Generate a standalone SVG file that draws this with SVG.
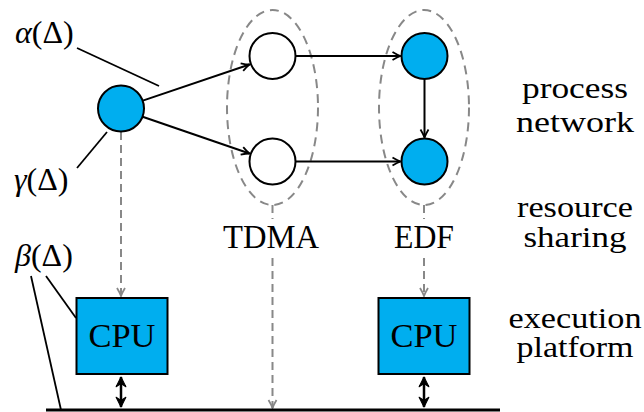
<svg xmlns="http://www.w3.org/2000/svg" width="644" height="412" viewBox="0 0 644 412" font-family="'Liberation Serif', 'DejaVu Serif', serif">
  <defs>
    <style>
      text { font-family: 'Liberation Serif', 'DejaVu Serif', serif; fill: #000; }
      .lbl { font-size: 33px; text-anchor: middle; }
      .side { font-size: 29px; text-anchor: middle; }
      .greek { font-size: 32px; }
      .proc { stroke: #000; stroke-width: 2; }
      .task { fill: #00aeef; }
      .idle { fill: #fff; }
      .cpu { fill: #00aeef; stroke: #000; stroke-width: 2; }
      .edge { stroke: #000; stroke-width: 2; fill: none; }
      .ann { stroke: #000; stroke-width: 1.8; fill: none; }
      .map { stroke: #888; stroke-width: 2; stroke-dasharray: 8 5; fill: none; }
      .group { stroke: #888; stroke-width: 2; stroke-dasharray: 9 6; fill: none; }
      .bus { stroke: #000; stroke-width: 3; }
      .link { stroke: #000; stroke-width: 2.5; fill: none; }
    </style>
    <marker id="arrow" viewBox="-10 -6 12 12" refX="0" refY="0" markerWidth="12" markerHeight="12" markerUnits="userSpaceOnUse" orient="auto">
      <path d="M -8 -4 Q -3 -1 0 0 Q -3 1 -8 4" fill="none" stroke="#000" stroke-width="1.8"/>
    </marker>
    <marker id="arrowGray" viewBox="-10 -6 12 12" refX="0" refY="0" markerWidth="12" markerHeight="12" markerUnits="userSpaceOnUse" orient="auto">
      <path d="M -8 -4 Q -3 -1 0 0 Q -3 1 -8 4" fill="none" stroke="#888" stroke-width="1.8"/>
    </marker>
    <marker id="stealth" viewBox="-10 -6 12 12" refX="0" refY="0" markerWidth="13" markerHeight="13" markerUnits="userSpaceOnUse" orient="auto-start-reverse">
      <path d="M -9 -4.5 L 0 0 L -9 4.5 L -6 0 Z" fill="#000" stroke="#000" stroke-width="1" stroke-linejoin="round"/>
    </marker>
  </defs>

  <!-- scheduling groups -->
  <g id="tdma-group">
    <ellipse class="group" cx="272.5" cy="107.5" rx="45.5" ry="97.5"/>
    <text class="lbl" x="271" y="248" textLength="96" lengthAdjust="spacingAndGlyphs">TDMA</text>
  </g>
  <g id="edf-group">
    <ellipse class="group" cx="424" cy="107.5" rx="45" ry="97.5"/>
    <text class="lbl" x="424" y="248" textLength="60" lengthAdjust="spacingAndGlyphs">EDF</text>
  </g>

  <!-- connectors -->
  <g id="connectors">
    <!-- process network edges -->
    <line class="edge" x1="142.8" y1="100.6" x2="249.5" y2="64.5" marker-end="url(#arrow)"/>
    <line class="edge" x1="142.6" y1="116.7" x2="249.5" y2="153.5" marker-end="url(#arrow)"/>
    <line class="edge" x1="296" y1="56" x2="400.5" y2="56" marker-end="url(#arrow)"/>
    <line class="edge" x1="296" y1="161.5" x2="400.5" y2="161.5" marker-end="url(#arrow)"/>
    <line class="edge" x1="424.5" y1="79.5" x2="424.5" y2="137.5" marker-end="url(#arrow)"/>

    <!-- mappings onto resources -->
    <line class="map" x1="121" y1="132" x2="121" y2="296" marker-end="url(#arrowGray)"/>
    <line class="map" x1="272.5" y1="205" x2="272.5" y2="219"/>
    <line class="map" x1="272.5" y1="258" x2="272.5" y2="408" marker-end="url(#arrowGray)"/>
    <line class="map" x1="424" y1="205" x2="424" y2="219"/>
    <line class="map" x1="424" y1="258" x2="424" y2="296" marker-end="url(#arrowGray)"/>

    <!-- curve annotations -->
    <line class="ann" x1="77" y1="48" x2="159" y2="86"/>
    <line class="ann" x1="77" y1="168" x2="107" y2="132"/>
    <line class="ann" x1="31" y1="276" x2="61" y2="410"/>
    <line class="ann" x1="46" y1="276" x2="76" y2="318"/>

    <!-- CPU to bus links -->
    <line class="link" x1="121" y1="377" x2="121" y2="407" marker-start="url(#stealth)" marker-end="url(#stealth)"/>
    <line class="link" x1="424" y1="377" x2="424" y2="407" marker-start="url(#stealth)" marker-end="url(#stealth)"/>

    <!-- communication bus -->
    <line class="bus" x1="46" y1="410" x2="500" y2="410"/>
  </g>

  <!-- processes -->
  <g id="source">
    <circle class="proc task" cx="121" cy="108.5" r="23"/>
  </g>
  <g id="tdma-top">
    <circle class="proc idle" cx="272.5" cy="56" r="23"/>
  </g>
  <g id="tdma-bottom">
    <circle class="proc idle" cx="272.5" cy="161.5" r="23"/>
  </g>
  <g id="edf-top">
    <circle class="proc task" cx="424.5" cy="56" r="23"/>
  </g>
  <g id="edf-bottom">
    <circle class="proc task" cx="424.5" cy="161.5" r="23"/>
  </g>

  <!-- processors -->
  <g id="cpu-left">
    <rect class="cpu" x="76.5" y="298" width="91" height="76"/>
    <text class="lbl" x="122" y="347" textLength="67" lengthAdjust="spacingAndGlyphs">CPU</text>
  </g>
  <g id="cpu-right">
    <rect class="cpu" x="378.5" y="298" width="91" height="76"/>
    <text class="lbl" x="424" y="347" textLength="67" lengthAdjust="spacingAndGlyphs">CPU</text>
  </g>

  <!-- curve labels -->
  <g id="alpha-label">
    <text class="greek" x="15" y="43"><tspan font-style="italic">α</tspan>(Δ)</text>
  </g>
  <g id="gamma-label">
    <text class="greek" x="14" y="190"><tspan font-style="italic">γ</tspan>(Δ)</text>
  </g>
  <g id="beta-label">
    <text class="greek" x="15" y="266"><tspan font-style="italic">β</tspan>(Δ)</text>
  </g>

  <!-- layer labels -->
  <g id="layer-labels">
    <text class="side" x="575" y="98" textLength="106" lengthAdjust="spacingAndGlyphs">process</text>
    <text class="side" x="575" y="132" textLength="118" lengthAdjust="spacingAndGlyphs">network</text>
    <text class="side" x="575" y="217" textLength="116" lengthAdjust="spacingAndGlyphs">resource</text>
    <text class="side" x="575" y="247" textLength="103" lengthAdjust="spacingAndGlyphs">sharing</text>
    <text class="side" x="575" y="328" textLength="133" lengthAdjust="spacingAndGlyphs">execution</text>
    <text class="side" x="575" y="357" textLength="117" lengthAdjust="spacingAndGlyphs">platform</text>
  </g>
</svg>
